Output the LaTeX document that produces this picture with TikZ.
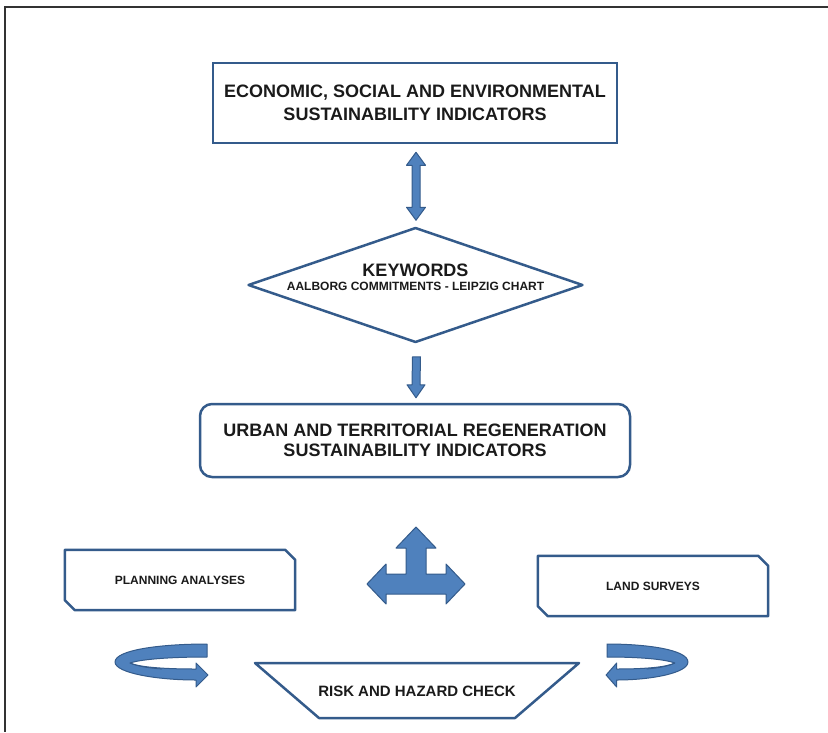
\documentclass[tikz,border=0pt]{standalone}
\usepackage{fontspec}
\setmainfont{Liberation Sans}
\usetikzlibrary{shapes.geometric,calc}

\definecolor{boxblue}{HTML}{345B8B}
\definecolor{arrowblue}{HTML}{4F81BD}
\definecolor{ink}{HTML}{1A1A1A}

\tikzset{
    box/.style={draw=boxblue,line width=2.5pt,text=ink,align=center,
        font=\bfseries\fontsize{18}{23}\selectfont},
    sidebox/.style={minimum width=230pt,minimum height=60pt,text=ink,
        font=\bfseries\fontsize{12}{14}\selectfont},
    boxline/.style={draw=boxblue,line width=2.5pt,line join=round},
    blockarrow/.style={fill=arrowblue,draw=boxblue,line width=1pt,line join=round},
    uturn/.pic={
        \filldraw[blockarrow] (0,0) .. controls (-47,0) and (-92,6) .. (-92,18)
            .. controls (-92,29) and (-50,36) .. (-11,36) -- (-11,43) -- (1,31)
            -- (-11,19) -- (-11,25) .. controls (-45,25) and (-68,23) .. (-77,19)
            .. controls (-65,15) and (-35,13) .. (0,13) -- cycle;
        \draw[boxblue,line width=0.8pt] (-77,19) .. controls (-70,22) and (-60,24) .. (-45,25);
    }
}

\begin{document}
\begin{tikzpicture}[x=1pt,y=-1pt]
    \useasboundingbox (0,0) rectangle (828,732);
    \draw[line width=2pt,black!80] (828,7) -- (5,7) -- (5,732);

    % main column
    \node[box,minimum width=404pt,minimum height=80pt] (ind) at (415,103)
        {ECONOMIC, SOCIAL AND ENVIRONMENTAL\\SUSTAINABILITY INDICATORS};
    \node[diamond,boxline,aspect=2.9,inner sep=0pt,minimum width=335pt,minimum height=115pt] (key) at (415.5,285) {};
    \node[text=ink,align=center,font=\bfseries\fontsize{18}{13.3}\selectfont] (keytext) at (415.5,277.2)
        {KEYWORDS\\{\fontsize{12}{13.3}\selectfont AALBORG COMMITMENTS - LEIPZIG CHART}};
    \node[box,rounded corners=12pt,minimum width=430pt,minimum height=73pt,
        font=\bfseries\fontsize{18}{19.5}\selectfont] (urban) at (415,440.5)
        {URBAN AND TERRITORIAL REGENERATION\\SUSTAINABILITY INDICATORS};

    % block arrows between the boxes
    \coordinate (ua) at ($(ind.south)+(1,8)$);
    \coordinate (ub) at ($(key.north)+(0.5,-6)$);
    \filldraw[blockarrow] (ua) -- ++(9.5,13) -- ++(-5.5,0) -- ($(ub)+(4,-13)$) -- ++(5.5,0) -- (ub)
        -- ++(-9.5,-13) -- ++(5.5,0) -- ($(ua)+(-4,13)$) -- ++(-5.5,0) -- cycle;
    \coordinate (da) at ($(key.south)+(1,13)$);
    \coordinate (db) at ($(urban.north)+(1,-5)$);
    \filldraw[blockarrow] ($(da)+(-4,0)$) -- ($(db)+(-4,-13)$) -- ++(-5,0) -- (db) -- ++(9,-13)
        -- ++(-5,0) -- ($(da)+(4,0)$) -- cycle;

    % three-way arrow
    \coordinate (fork) at (416,584);
    \filldraw[blockarrow,shift={(fork)}] (-49,0) -- (-30,-20) -- (-30,-10) -- (-10,-10) -- (-10,-36)
        -- (-20,-36) -- (0,-57) -- (20,-36) -- (10,-36) -- (10,-10) -- (30,-10) -- (30,-20)
        -- (49,0) -- (30,20) -- (30,10) -- (-30,10) -- (-30,20) -- cycle;

    % side boxes with cut corners
    \node[sidebox] (plan) at (180,580) {PLANNING ANALYSES};
    \node[sidebox] (land) at (653,586) {LAND SURVEYS};
    \foreach \n in {plan,land}
        \draw[boxline] (\n.north west) -- ($(\n.north east)+(-10,0)$) -- ($(\n.north east)+(0,10)$)
            -- (\n.south east) -- ($(\n.south west)+(10,0)$) -- ($(\n.south west)+(0,-10)$) -- cycle;

    % check at the bottom
    \node[text=ink,font=\bfseries\fontsize{15}{18}\selectfont] (risk) at (417,691) {RISK AND HAZARD CHECK};
    \draw[boxline] ($(risk)+(-162,-28)$) -- ++(324,0) -- ++(-64,55) -- ++(-196,0) -- cycle;

    \pic at (207,644) {uturn};
    \pic[xscale=-0.88] at (607,644) {uturn};
\end{tikzpicture}
\end{document}
